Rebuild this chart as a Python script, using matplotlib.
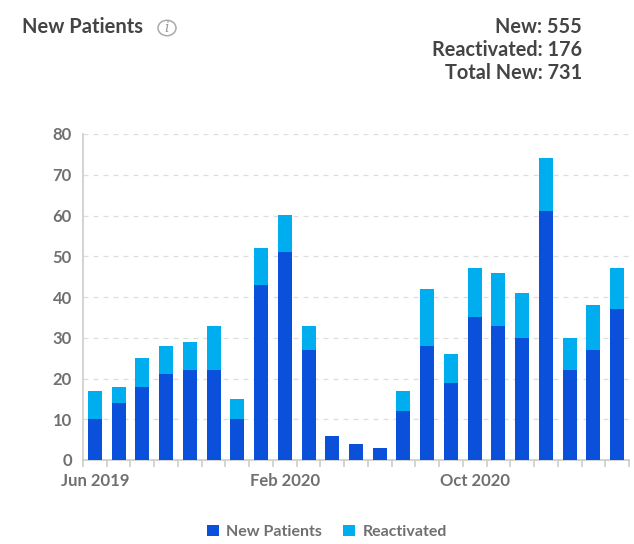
import matplotlib
matplotlib.use("Agg")
import matplotlib.pyplot as plt
from matplotlib.patches import Circle

plt.rcParams['font.family'] = ['Lato', 'DejaVu Sans']

months = ["Jun 2019", "Jul 2019", "Aug 2019", "Sep 2019", "Oct 2019", "Nov 2019", "Dec 2019",
          "Jan 2020", "Feb 2020", "Mar 2020", "Apr 2020", "May 2020", "Jun 2020", "Jul 2020",
          "Aug 2020", "Sep 2020", "Oct 2020", "Nov 2020", "Dec 2020", "Jan 2021", "Feb 2021",
          "Mar 2021", "Apr 2021"]
new_patients = [10, 14, 18, 21, 22, 22, 10, 43, 51, 27, 6, 4, 3, 12, 28, 19, 35, 33, 30, 61, 22, 27, 37]
reactivated = [7, 4, 7, 7, 7, 11, 5, 9, 9, 6, 0, 0, 0, 5, 14, 7, 12, 13, 11, 13, 8, 11, 10]
shown_labels = ["Jun 2019", "Feb 2020", "Oct 2020"]
y_ticks = [0, 10, 20, 30, 40, 50, 60, 70, 80]

c_new = '#0A50DA'
c_re = '#00AEEF'
txt_dark = '#444444'
txt_gray = '#707070'

W, H = 634, 544
fig = plt.figure(figsize=(W / 100, H / 100), dpi=100)
ax = fig.add_axes([83 / W, (H - 460) / H, (629 - 83) / W, (460 - 134) / H])

x = list(range(len(months)))
ax.bar(x, new_patients, width=0.59, color=c_new, zorder=3, label='New Patients')
ax.bar(x, reactivated, width=0.59, bottom=new_patients, color=c_re, zorder=3, label='Reactivated')

ax.set_xlim(-0.5, len(months) - 0.5)
ax.set_ylim(0, 80)

for s in ['top', 'right']:
    ax.spines[s].set_visible(False)
ax.spines['left'].set_color('#cccccc')
ax.spines['bottom'].set_color('#cccccc')
ax.spines['left'].set_linewidth(1.2)
ax.spines['bottom'].set_linewidth(1.2)

ax.set_yticks(y_ticks)
ax.set_yticklabels([str(v) for v in y_ticks])
ax.tick_params(axis='y', length=0, pad=8, labelsize=12, labelcolor=txt_gray)
ax.set_yticks([0, 80], minor=True)
ax.tick_params(axis='y', which='minor', length=5, color='#cccccc', width=1.2)
for lab in ax.get_yticklabels():
    lab.set_fontweight('bold')

ax.set_xticks([months.index(m) for m in shown_labels])
ax.set_xticklabels(shown_labels)
ax.tick_params(axis='x', length=0, pad=9, labelsize=12, labelcolor=txt_gray)
for lab in ax.get_xticklabels():
    lab.set_fontweight('bold')
ax.set_xticks([i - 0.5 for i in range(len(months) + 1)], minor=True)
ax.tick_params(axis='x', which='minor', length=5, color='#cccccc', width=1.2)

for v in y_ticks[1:]:
    ax.axhline(v, color='#dddddd', linestyle=(0, (4, 4)), linewidth=0.9, zorder=1)

# Title and info icon
fig.text(22 / W, 1 - 27 / H, "New Patients", fontsize=14.5, fontweight='bold', color=txt_dark,
         ha='left', va='center')
icon = Circle((167 / W, 1 - 28 / H), 9 / W, transform=fig.transFigure, fill=False,
              edgecolor='#aaaaaa', linewidth=1.1)
fig.patches.append(icon)
fig.text(167 / W, 1 - 28 / H, "i", fontsize=10, style='italic', color='#999999',
         ha='center', va='center', family='DejaVu Serif')

# Summary text
total = sum(new_patients) + sum(reactivated)
summary = [f"New: {sum(new_patients)}", f"Reactivated: {sum(reactivated)}", f"Total New: {total}"]
for i, s in enumerate(summary):
    fig.text(582 / W, 1 - (27 + 23 * i) / H, s, fontsize=14.3, fontweight='bold', color=txt_dark,
             ha='right', va='center')

leg = fig.legend(loc='center', bbox_to_anchor=(327 / W, 1 - 532 / H), ncol=2, frameon=False,
                 handlelength=0.75, handleheight=0.75, handletextpad=0.5, columnspacing=1.3,
                 prop={'size': 11.5, 'weight': 'bold'})
for t in leg.get_texts():
    t.set_color(txt_gray)

fig.savefig('out.png', dpi=100)
